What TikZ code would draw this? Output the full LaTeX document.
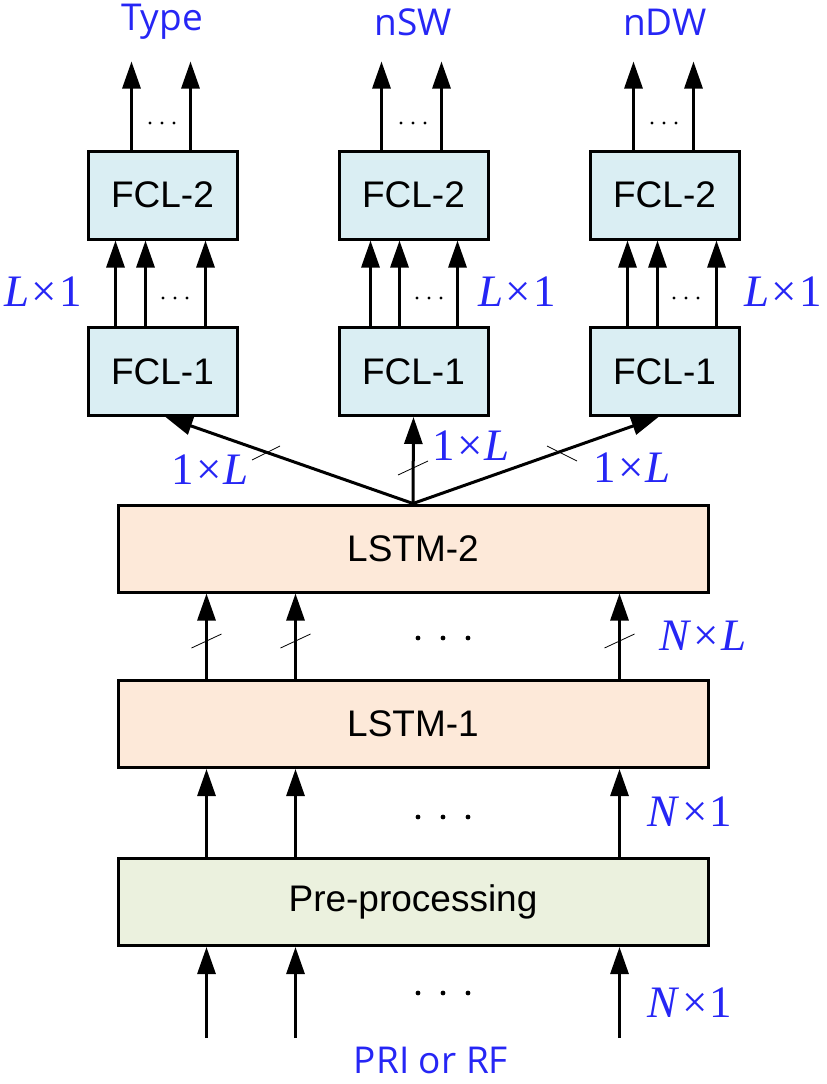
\documentclass[tikz,border=0pt]{standalone}
\usepackage{fontspec}
\setmainfont{Liberation Sans}
\newfontfamily\lblfont{Open Sans}
\newfontfamily\mathlbl{Liberation Serif}
\usetikzlibrary{arrows.meta,calc}
\definecolor{fclblue}{HTML}{DAEEF3}
\definecolor{lstmorange}{HTML}{FDE9D9}
\definecolor{pregreen}{HTML}{EBF1DE}
\definecolor{lblblue}{HTML}{2626F5}
\newcommand{\tms}{\kern2.5pt×\kern2.5pt}
\begin{document}
\begin{tikzpicture}[x=1pt,y=-1pt,
  box/.style={draw, line width=3pt, inner sep=0pt, font=\fontsize{37}{40}\selectfont},
  fclbox/.style={box, fill=fclblue, minimum width=149pt, minimum height=88pt},
  widebox/.style={box, minimum width=590pt, minimum height=87pt},
  arr/.style={line width=3pt, -{Triangle[length=27pt,width=18pt]}},
  slashmark/.style={line width=0.8pt},
  outlbl/.style={text=lblblue, font=\lblfont\fontsize{37}{40}\selectfont, inner sep=0pt},
  dimlbl/.style={text=lblblue, font=\mathlbl\fontsize{45}{48}\selectfont, inner sep=0pt},
  dotsmall/.style={fill=black, draw=none},
]
\useasboundingbox (0,0) rectangle (827,1084);

% boxes
\node[fclbox] (f2a) at (162.5,195) {FCL-2};
\node[fclbox] (f2b) at (413.5,195) {FCL-2};
\node[fclbox] (f2c) at (664.5,195) {FCL-2};
\node[fclbox] (f1a) at (162.5,371.5) {FCL-1};
\node[fclbox] (f1b) at (413.5,371.5) {FCL-1};
\node[fclbox] (f1c) at (664.5,371.5) {FCL-1};
\node[widebox, fill=lstmorange] (l2) at (413,548.5) {LSTM-2};
\node[widebox, fill=lstmorange] (l1) at (413,724) {LSTM-1};
\node[widebox, fill=pregreen] (pre) at (413,902) {Pre-processing};

% output labels
\node[outlbl] (ta) at (162,22) {Type};
\node[outlbl] (tb) at (413,22) {nSW};
\node[outlbl] (tc) at (665,22) {nDW};
\node[outlbl] (inl) at (431,1060) {PRI or RF};

% output arrows
\coordinate (oa1) at ([xshift=45pt]f2a.north west);
\coordinate (oa2) at ([xshift=104pt]f2a.north west);
\coordinate (ob1) at ([xshift=44pt]f2b.north west);
\coordinate (ob2) at ([xshift=104pt]f2b.north west);
\coordinate (oc1) at ([xshift=45pt]f2c.north west);
\coordinate (oc2) at ([xshift=105pt]f2c.north west);
\foreach \c in {oa1,oa2,ob1,ob2,oc1,oc2}{
  \draw[arr] (\c) -- ++(0,-88);
}

% FCL-1 -> FCL-2 arrows
\foreach \b/\o in {a/29,a/59,a/119,b/33,b/62,b/120,c/39,c/69,c/128}{
  \draw[arr] ([xshift=\o pt]f1\b.north west) -- ([xshift=\o pt]f2\b.south west);
}

% LSTM-2 -> FCL-1 arrows
\draw[arr] (l2.north) -- ([xshift=79pt]f1a.south west);
\draw[arr] (l2.north) -- (f1b.south);
\draw[arr] (l2.north) -- ([xshift=70pt]f1c.south west);
\draw[slashmark] (252,460) -- (280,446);
\draw[slashmark] (398,475) -- (428,461);
\draw[slashmark] (547,446) -- (577,461);

% LSTM-1 -> LSTM-2, Pre -> LSTM-1, inputs
\foreach \o in {90,179,503}{
  \draw[arr] ([xshift=\o pt]l1.north west) -- ([xshift=\o pt]l2.south west);
  \draw[slashmark] ([xshift=\o pt-15pt]l1.north west) ++(0,-31) -- ++(30,-14);
  \draw[arr] ([xshift=\o pt]pre.north west) -- ([xshift=\o pt]l1.south west);
  \coordinate (in\o) at ([xshift=\o pt, yshift=-91pt]pre.south west);
  \draw[arr] (in\o) -- ([xshift=\o pt]pre.south west);
}

% dots
\foreach \cx/\cy in {162/123,175/298,413/123,429/298,664/123,686/298}{
  \foreach \d in {-12,0,12}{
    \fill[dotsmall] (\cx+\d,\cy) circle (1.6pt);
  }
}
\foreach \cy in {638,817,993}{
  \foreach \d in {-25,0,25}{
    \fill[dotsmall] (443+\d,\cy) circle (2.4pt);
  }
}

% dimension labels
\node[dimlbl] (da) at (43,292) {\textit{L}\tms 1};
\node[dimlbl] (db) at (517,292) {\textit{L}\tms 1};
\node[dimlbl] (dc) at (783,292) {\textit{L}\tms 1};
\node[dimlbl] (dd) at (210,470) {1\tms\textit{L}};
\node[dimlbl] (de) at (471,446) {1\tms\textit{L}};
\node[dimlbl] (df) at (632,468) {1\tms\textit{L}};
\node[dimlbl] (dg) at (703,636) {\textit{N}\tms\textit{L}};
\node[dimlbl] (dh) at (690,812) {\textit{N}\tms 1};
\node[dimlbl] (di) at (690,1003) {\textit{N}\tms 1};
\end{tikzpicture}
\end{document}
